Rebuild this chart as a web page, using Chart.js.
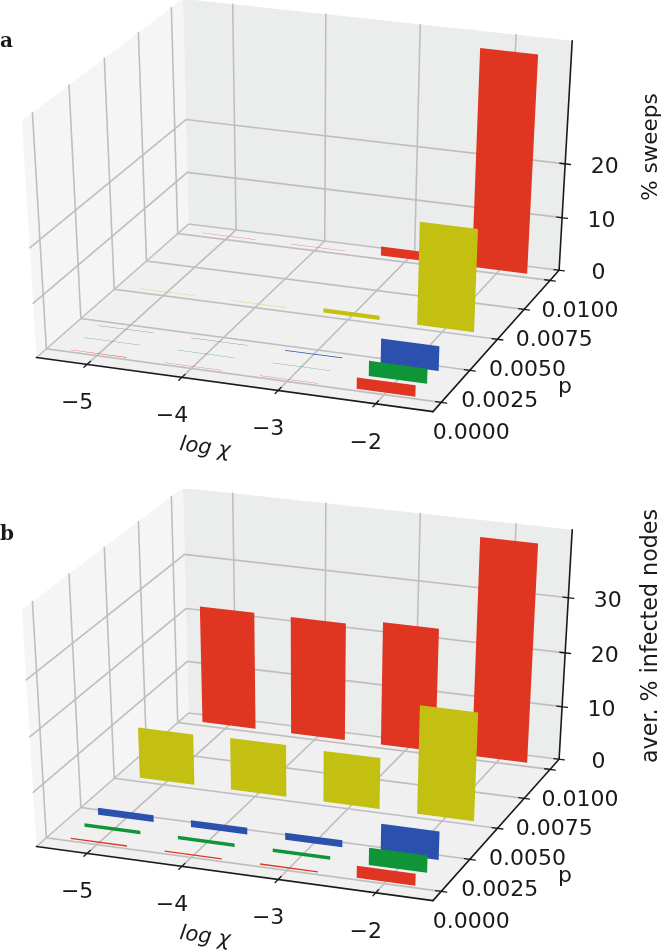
<!DOCTYPE html>
<html>
<head>
<meta charset="utf-8">
<title>sweeps</title>
<script src="https://cdn.jsdelivr.net/npm/chart.js@4"></script>
<style>
html, body { margin: 0; padding: 0; background: #fff; }
body { position: relative; width: 666px; height: 952px; overflow: hidden; }
canvas { position: absolute; left: 0; }
#chartA { top: 0; }
#chartB { top: 489px; }
</style>
</head>
<body>
<canvas id="chartA" width="666" height="489"></canvas>
<canvas id="chartB" width="666" height="463"></canvas>
<script>
// categories and ticks
var logChi = [-5, -4, -3, -2];
var logChiLabels = ['\u22125', '\u22124', '\u22123', '\u22122'];
var pTicks = [0, 0.0025, 0.005, 0.0075, 0.01];
var pLabels = ['0.0000', '0.0025', '0.0050', '0.0075', '0.0100'];
var zTicksA = [0, 10, 20];
var zTicksB = [0, 10, 20, 30];

// one row for each p, back to front, values in order of logChi
var pSeries = [0.0103, 0.0053, 0.00215, 0.00115, 0.00015];
var seriesColors = ['#e03520', '#c3c012', '#2c50ad', '#0f9438', '#e03520'];

var sweepsP0100 = [0.05, 0.05, 1.7, 40.2];
var sweepsP0050 = [0.05, 0.05, 0.8, 19];
var sweepsP0010 = [0.05, 0.05, 0.12, 4.6];
var sweepsP0005 = [0.05, 0.05, 0.05, 2.8];
var sweepsP0001 = [0.05, 0.05, 0.05, 2.1];

var infectedP0100 = [22, 22, 23, 40.2];
var infectedP0050 = [9.5, 9.7, 9.5, 20];
var infectedP0010 = [1.3, 1.3, 1.3, 5.3];
var infectedP0005 = [0.65, 0.65, 0.65, 3.2];
var infectedP0001 = [0.25, 0.25, 0.25, 2.2];

// axis limits of the 3d box
var xLim = [-5.54, -1.42];
var pLim = [-0.0007, 0.0109];
var zLim = [0, 42];
var barWidth = 0.6;

// camera, same idea as mplot3d
var elev = 31 * Math.PI / 180;
var azim = -70 * Math.PI / 180;
var dist = 10;
var scaleX = 4180, originX = 304.3;
var scaleY = 2718, originY = 199.2;

var U = [-Math.sin(azim), Math.cos(azim), 0];
var V = [-Math.sin(elev) * Math.cos(azim), -Math.sin(elev) * Math.sin(azim), Math.cos(elev)];
var N = [Math.cos(elev) * Math.cos(azim), Math.cos(elev) * Math.sin(azim), Math.sin(elev)];

function dot(a, b) {
    return a[0] * b[0] + a[1] * b[1] + a[2] * b[2];
}

function project(x, p, z) {
    var q = [
        (x - xLim[0]) / (xLim[1] - xLim[0]) - 0.5,
        (p - pLim[0]) / (pLim[1] - pLim[0]) - 0.5,
        (z - zLim[0]) / (zLim[1] - zLim[0]) - 0.5
    ];
    var w = dist - dot(N, q);
    return { x: dot(U, q) / w, y: dot(V, q) / w };
}

function lineSet(points, color, width) {
    return {
        data: points, showLine: true, pointRadius: 0, borderColor: color,
        borderWidth: width, tension: 0, borderCapStyle: 'round'
    };
}

function polySet(points, color) {
    return { data: points, showLine: false, pointRadius: 0, polygon: true, backgroundColor: color };
}

// fills the closed shape through the points placed by the chart
var polygonPlugin = {
    id: 'polygonPlugin',
    beforeDatasetDraw: function (chart, args) {
        var ds = chart.data.datasets[args.index];
        if (!ds.polygon) return;
        var pts = args.meta.data;
        var ctx = chart.ctx;
        ctx.save();
        ctx.beginPath();
        ctx.moveTo(pts[0].x, pts[0].y);
        for (var i = 1; i < pts.length; i++) ctx.lineTo(pts[i].x, pts[i].y);
        ctx.closePath();
        ctx.fillStyle = ds.backgroundColor;
        ctx.fill();
        ctx.restore();
    }
};

function drawPanel(id, rows, zTicks, zTitle, zTitleFont, letter, letterY, heightPx) {
    var x0 = xLim[0], x1 = xLim[1], p0 = pLim[0], p1 = pLim[1], z0 = zLim[0], z1 = zLim[1];
    var grid = '#bebebe', axisColor = '#1a1a1a';
    var sets = [];

    // panes
    sets.push(polySet([project(x0, p0, z0), project(x0, p1, z0), project(x0, p1, z1), project(x0, p0, z1)], '#f5f5f5'));
    sets.push(polySet([project(x0, p1, z0), project(x1, p1, z0), project(x1, p1, z1), project(x0, p1, z1)], '#ebecec'));
    sets.push(polySet([project(x0, p0, z0), project(x1, p0, z0), project(x1, p1, z0), project(x0, p1, z0)], '#f0f0f0'));

    // grid
    logChi.forEach(function (x) {
        sets.push(lineSet([project(x, p0, z0), project(x, p1, z0), project(x, p1, z1)], grid, 1.6));
    });
    pTicks.forEach(function (p) {
        sets.push(lineSet([project(x1, p, z0), project(x0, p, z0), project(x0, p, z1)], grid, 1.6));
    });
    zTicks.forEach(function (z) {
        sets.push(lineSet([project(x0, p0, z), project(x0, p1, z), project(x1, p1, z)], grid, 1.6));
    });

    // bars, back to front
    pSeries.forEach(function (p, r) {
        logChi.forEach(function (x, c) {
            var h = rows[r][c];
            var a = x - barWidth / 2, b = x + barWidth / 2;
            sets.push(polySet([project(a, p, 0), project(b, p, 0), project(b, p, h), project(a, p, h)], seriesColors[r]));
        });
    });

    // axis lines and ticks
    sets.push(lineSet([project(x0, p0, z0), project(x1, p0, z0)], axisColor, 1.6));
    sets.push(lineSet([project(x1, p0, z0), project(x1, p1, z0)], axisColor, 1.6));
    sets.push(lineSet([project(x1, p1, z0), project(x1, p1, z1)], axisColor, 1.6));
    var dx = 0.055 * (x1 - x0) / 4, dp = 0.02 * (p1 - p0);
    logChi.forEach(function (x) {
        sets.push(lineSet([project(x, p0 - dp, z0), project(x, p0 + dp, z0)], axisColor, 1.3));
    });
    pTicks.forEach(function (p) {
        sets.push(lineSet([project(x1 - dx, p, z0), project(x1 + dx, p, z0)], axisColor, 1.3));
    });
    zTicks.forEach(function (z) {
        sets.push(lineSet([project(x1 - dx, p1, z), project(x1 + dx, p1, z)], axisColor, 1.3));
    });

    // first dataset is painted last in Chart.js
    sets.reverse();

    var textPlugin = {
        id: 'textPlugin',
        afterDraw: function (chart) {
            var ctx = chart.ctx, sx = chart.scales.x, sy = chart.scales.y;
            function put(text, pt, ox, oy) {
                ctx.fillText(text, sx.getPixelForValue(pt.x) + ox, sy.getPixelForValue(pt.y) + oy);
            }
            ctx.save();
            ctx.fillStyle = '#1a1a1a';
            ctx.textAlign = 'center';
            ctx.textBaseline = 'middle';
            ctx.font = '22px "DejaVu Sans"';
            logChi.forEach(function (x, i) {
                put(logChiLabels[i], project(x, p0, z0), -10, 39);
            });
            pTicks.forEach(function (p, i) {
                put(pLabels[i], project(x1, p, z0), 30, 31);
            });
            zTicks.forEach(function (z) {
                put(String(z), project(x1, p1, z), 39.5, 3.5);
            });
            ctx.fillText('p', 565, 387);

            ctx.save();
            ctx.translate(205, 448);
            ctx.rotate(7.7 * Math.PI / 180);
            ctx.font = 'oblique 21px "DejaVu Sans"';
            ctx.fillText('log \u03c7', 0, 0);
            ctx.restore();

            ctx.save();
            ctx.translate(651, 147);
            ctx.rotate(-Math.PI / 2);
            ctx.font = zTitleFont + 'px "DejaVu Sans"';
            ctx.fillText(zTitle, 0, 0);
            ctx.restore();

            ctx.font = 'bold 20px "DejaVu Serif"';
            ctx.textAlign = 'left';
            ctx.fillText(letter, 0, letterY);
            ctx.restore();
        }
    };

    return new Chart(document.getElementById(id), {
        type: 'scatter',
        data: { datasets: sets },
        plugins: [polygonPlugin, textPlugin],
        options: {
            responsive: false,
            animation: false,
            layout: { padding: 0 },
            events: [],
            plugins: { legend: { display: false }, tooltip: { enabled: false } },
            scales: {
                x: { type: 'linear', display: false, min: -originX / scaleX, max: (666 - originX) / scaleX },
                y: { type: 'linear', display: false, min: (originY - heightPx) / scaleY, max: originY / scaleY }
            }
        }
    });
}

drawPanel('chartA',
    [sweepsP0100, sweepsP0050, sweepsP0010, sweepsP0005, sweepsP0001],
    zTicksA, '% sweeps', 21.5, 'a', 42, 489);
drawPanel('chartB',
    [infectedP0100, infectedP0050, infectedP0010, infectedP0005, infectedP0001],
    zTicksB, 'aver. % infected nodes', 22.2, 'b', 46, 463);
</script>
</body>
</html>
